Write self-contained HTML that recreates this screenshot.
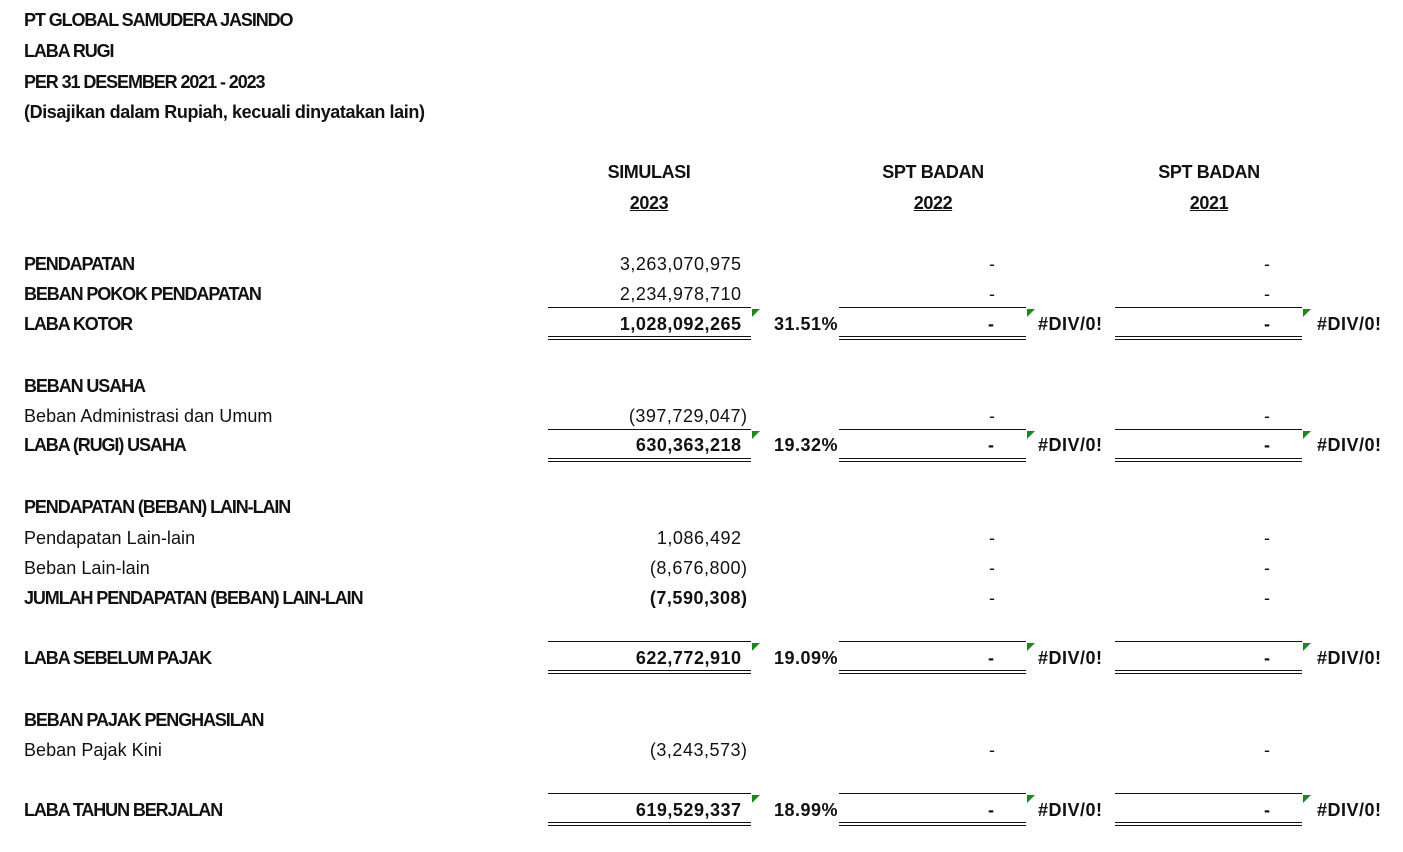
<!DOCTYPE html>
<html><head><meta charset="utf-8">
<style>
html,body{margin:0;padding:0;background:#fff;}
body{width:1403px;height:852px;position:relative;overflow:hidden;font-family:"Liberation Sans",sans-serif;font-size:18px;color:#111;letter-spacing:0px;}
.t{position:absolute;white-space:nowrap;line-height:20px;}
.b{font-weight:bold;letter-spacing:-1.1px;}
.h{letter-spacing:-0.4px;}
.n{letter-spacing:0.5px;}
.g{letter-spacing:0.05px;}
.r{text-align:right;}
.c{text-align:center;}
.u{text-decoration:underline;}
.ln{position:absolute;height:0;border-top:1.5px solid #111;}
.dbl{position:absolute;height:2px;border-top:1.5px solid #111;border-bottom:1.5px solid #111;}
.tri{position:absolute;width:0;height:0;border-top:8px solid #1a8a1a;border-right:8px solid transparent;}
</style></head><body>
<div class="t b" style="left:24px;top:10px">PT GLOBAL SAMUDERA JASINDO</div>
<div class="t b" style="left:24px;top:41px">LABA RUGI</div>
<div class="t b" style="left:24px;top:72px">PER 31 DESEMBER 2021 - 2023</div>
<div class="t b" style="left:24px;top:102px;letter-spacing:-0.4px">(Disajikan dalam Rupiah, kecuali dinyatakan lain)</div>

<div class="t b c h" style="left:549px;width:200px;top:162px">SIMULASI</div>
<div class="t b c u h" style="left:549px;width:200px;top:193px">2023</div>
<div class="t b c h" style="left:833px;width:200px;top:162px">SPT BADAN</div>
<div class="t b c u h" style="left:833px;width:200px;top:193px">2022</div>
<div class="t b c h" style="left:1109px;width:200px;top:162px">SPT BADAN</div>
<div class="t b c u h" style="left:1109px;width:200px;top:193px">2021</div>

<div class="t b" style="left:24px;top:254px">PENDAPATAN</div>
<div class="t r n" style="left:500px;width:241.5px;top:254px">3,263,070,975</div>
<div class="t" style="left:989px;top:254px">-</div>
<div class="t" style="left:1264px;top:254px">-</div>

<div class="t b" style="left:24px;top:284px">BEBAN POKOK PENDAPATAN</div>
<div class="t r n" style="left:500px;width:241.5px;top:284px">2,234,978,710</div>
<div class="t" style="left:989px;top:284px">-</div>
<div class="t" style="left:1264px;top:284px">-</div>

<div class="t b" style="left:24px;top:314px">LABA KOTOR</div>
<div class="t b r n" style="left:500px;width:241.5px;top:314px">1,028,092,265</div>
<div class="t b n" style="left:774px;top:314px">31.51%</div>
<div class="t b" style="left:988px;top:314px">-</div>
<div class="t b n" style="left:1038px;top:314px">#DIV/0!</div>
<div class="t b" style="left:1264px;top:314px">-</div>
<div class="t b n" style="left:1317px;top:314px">#DIV/0!</div>

<div class="t b" style="left:24px;top:376px">BEBAN USAHA</div>
<div class="t g" style="left:24px;top:406px">Beban Administrasi dan Umum</div>
<div class="t r n" style="left:500px;width:247.5px;top:406px">(397,729,047)</div>
<div class="t" style="left:989px;top:406px">-</div>
<div class="t" style="left:1264px;top:406px">-</div>

<div class="t b" style="left:24px;top:435px">LABA (RUGI) USAHA</div>
<div class="t b r n" style="left:500px;width:241.5px;top:435px">630,363,218</div>
<div class="t b n" style="left:774px;top:435px">19.32%</div>
<div class="t b" style="left:988px;top:435px">-</div>
<div class="t b n" style="left:1038px;top:435px">#DIV/0!</div>
<div class="t b" style="left:1264px;top:435px">-</div>
<div class="t b n" style="left:1317px;top:435px">#DIV/0!</div>

<div class="t b" style="left:24px;top:497px">PENDAPATAN (BEBAN) LAIN-LAIN</div>
<div class="t g" style="left:24px;top:528px">Pendapatan Lain-lain</div>
<div class="t r n" style="left:500px;width:241.5px;top:528px">1,086,492</div>
<div class="t" style="left:989px;top:528px">-</div>
<div class="t" style="left:1264px;top:528px">-</div>
<div class="t g" style="left:24px;top:558px">Beban Lain-lain</div>
<div class="t r n" style="left:500px;width:247.5px;top:558px">(8,676,800)</div>
<div class="t" style="left:989px;top:558px">-</div>
<div class="t" style="left:1264px;top:558px">-</div>
<div class="t b" style="left:24px;top:588px">JUMLAH PENDAPATAN (BEBAN) LAIN-LAIN</div>
<div class="t b r n" style="left:500px;width:247.5px;top:588px">(7,590,308)</div>
<div class="t" style="left:989px;top:588px">-</div>
<div class="t" style="left:1264px;top:588px">-</div>

<div class="t b" style="left:24px;top:648px">LABA SEBELUM PAJAK</div>
<div class="t b r n" style="left:500px;width:241.5px;top:648px">622,772,910</div>
<div class="t b n" style="left:774px;top:648px">19.09%</div>
<div class="t b" style="left:988px;top:648px">-</div>
<div class="t b n" style="left:1038px;top:648px">#DIV/0!</div>
<div class="t b" style="left:1264px;top:648px">-</div>
<div class="t b n" style="left:1317px;top:648px">#DIV/0!</div>

<div class="t b" style="left:24px;top:710px">BEBAN PAJAK PENGHASILAN</div>
<div class="t g" style="left:24px;top:740px">Beban Pajak Kini</div>
<div class="t r n" style="left:500px;width:247.5px;top:740px">(3,243,573)</div>
<div class="t" style="left:989px;top:740px">-</div>
<div class="t" style="left:1264px;top:740px">-</div>

<div class="t b" style="left:24px;top:800px">LABA TAHUN BERJALAN</div>
<div class="t b r n" style="left:500px;width:241.5px;top:800px">619,529,337</div>
<div class="t b n" style="left:774px;top:800px">18.99%</div>
<div class="t b" style="left:988px;top:800px">-</div>
<div class="t b n" style="left:1038px;top:800px">#DIV/0!</div>
<div class="t b" style="left:1264px;top:800px">-</div>
<div class="t b n" style="left:1317px;top:800px">#DIV/0!</div>

<div class="ln" style="left:548px;width:203px;top:307px"></div>
<div class="ln" style="left:839px;width:187px;top:307px"></div>
<div class="ln" style="left:1115px;width:187px;top:307px"></div>
<div class="dbl" style="left:548px;width:203px;top:336px"></div>
<div class="dbl" style="left:839px;width:187px;top:336px"></div>
<div class="dbl" style="left:1115px;width:187px;top:336px"></div>
<div class="tri" style="left:752px;top:309px"></div>
<div class="tri" style="left:1027px;top:309px"></div>
<div class="tri" style="left:1303px;top:309px"></div>

<div class="ln" style="left:548px;width:203px;top:429px"></div>
<div class="ln" style="left:839px;width:187px;top:429px"></div>
<div class="ln" style="left:1115px;width:187px;top:429px"></div>
<div class="dbl" style="left:548px;width:203px;top:458px"></div>
<div class="dbl" style="left:839px;width:187px;top:458px"></div>
<div class="dbl" style="left:1115px;width:187px;top:458px"></div>
<div class="tri" style="left:752px;top:431px"></div>
<div class="tri" style="left:1027px;top:431px"></div>
<div class="tri" style="left:1303px;top:431px"></div>

<div class="ln" style="left:548px;width:203px;top:641px"></div>
<div class="ln" style="left:839px;width:187px;top:641px"></div>
<div class="ln" style="left:1115px;width:187px;top:641px"></div>
<div class="dbl" style="left:548px;width:203px;top:670px"></div>
<div class="dbl" style="left:839px;width:187px;top:670px"></div>
<div class="dbl" style="left:1115px;width:187px;top:670px"></div>
<div class="tri" style="left:752px;top:643px"></div>
<div class="tri" style="left:1027px;top:643px"></div>
<div class="tri" style="left:1303px;top:643px"></div>

<div class="ln" style="left:548px;width:203px;top:793px"></div>
<div class="ln" style="left:839px;width:187px;top:793px"></div>
<div class="ln" style="left:1115px;width:187px;top:793px"></div>
<div class="dbl" style="left:548px;width:203px;top:822px"></div>
<div class="dbl" style="left:839px;width:187px;top:822px"></div>
<div class="dbl" style="left:1115px;width:187px;top:822px"></div>
<div class="tri" style="left:752px;top:795px"></div>
<div class="tri" style="left:1027px;top:795px"></div>
<div class="tri" style="left:1303px;top:795px"></div>
</body></html>
